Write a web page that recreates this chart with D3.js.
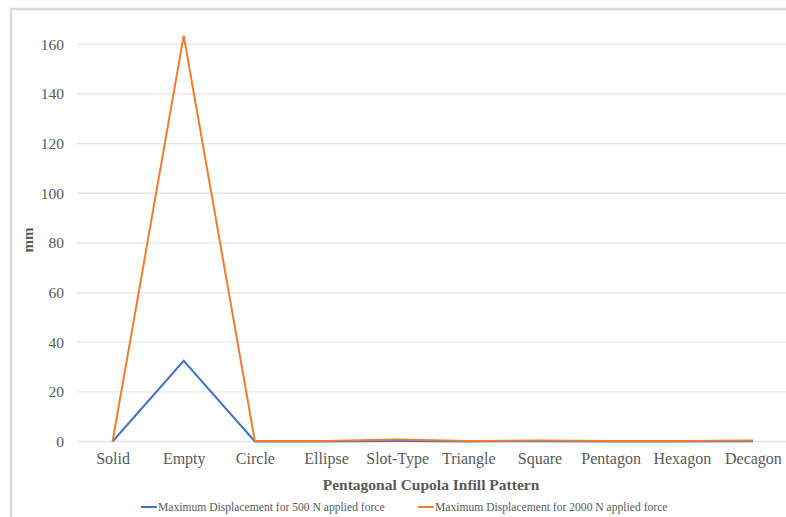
<!DOCTYPE html>
<html>
<head>
<meta charset="utf-8">
<script src="https://cdn.jsdelivr.net/npm/d3@7"></script>
<style>
  html, body { margin: 0; padding: 0; background: #fff; }
  svg { display: block; }
  text { font-family: "Liberation Serif", "Times New Roman", serif; fill: #595959; }
</style>
</head>
<body>
<svg id="chart" width="786" height="517"></svg>
<script>
// Infill patterns and maximum displacement (mm) for each load case
const categories = ["Solid", "Empty", "Circle", "Ellipse", "Slot-Type", "Triangle", "Square", "Pentagon", "Hexagon", "Decagon"];
const disp500 = [0, 32.5, 0.05, 0.05, 0.2, 0.05, 0.1, 0.05, 0.05, 0.1];
const disp2000 = [0, 163.5, 0.2, 0.2, 0.8, 0.2, 0.4, 0.2, 0.2, 0.4];
const yTicks = [0, 20, 40, 60, 80, 100, 120, 140, 160];
const seriesNames = [
  "Maximum Displacement for 500 N applied force",
  "Maximum Displacement for 2000 N applied force"
];
const seriesColors = ["#4472C4", "#ED7D31"];

const svg = d3.select("#chart");

// chart frame
svg.append("rect")
  .attr("x", 11).attr("y", 9)
  .attr("width", 800).attr("height", 520)
  .attr("fill", "none").attr("stroke", "#d9d9d9").attr("stroke-width", 2.5);

const plot = { left: 77, right: 788.5, top: 44.3, bottom: 441.5 };

const x = d3.scalePoint()
  .domain(categories)
  .range([plot.left, plot.right])
  .padding(0.5);

const y = d3.scaleLinear()
  .domain([0, 160])
  .range([plot.bottom, plot.top]);

// horizontal gridlines
svg.append("g")
  .selectAll("line")
  .data(yTicks)
  .join("line")
  .attr("x1", plot.left).attr("x2", 786)
  .attr("y1", d => y(d)).attr("y2", d => y(d))
  .attr("stroke", "#e6e6e6").attr("stroke-width", 1.3);

// y axis labels
const yAxis = d3.axisLeft(y).tickValues(yTicks).tickSize(0).tickPadding(0);
const gy = svg.append("g").attr("transform", `translate(64,0)`).call(yAxis);
gy.select(".domain").remove();
gy.selectAll("text")
  .style("font-family", '"Liberation Serif", serif')
  .style("font-size", "15.5px")
  .attr("fill", "#595959");

// x axis labels
const xAxis = d3.axisBottom(x).tickSize(0).tickPadding(0);
const gx = svg.append("g").attr("transform", `translate(0,${plot.bottom + 11})`).call(xAxis);
gx.select(".domain").remove();
gx.selectAll("text")
  .style("font-family", '"Liberation Serif", serif')
  .style("font-size", "16px")
  .attr("fill", "#595959");

// series lines
const series = [disp500, disp2000];
const line = d3.line()
  .x((d, i) => x(categories[i]))
  .y(d => y(d));

series.forEach((vals, k) => {
  svg.append("path")
    .datum(vals)
    .attr("d", line)
    .attr("fill", "none")
    .attr("stroke", seriesColors[k])
    .attr("stroke-width", 2)
    .attr("stroke-linejoin", "miter");
});

// axis titles
svg.append("text")
  .attr("x", 431).attr("y", 490)
  .attr("text-anchor", "middle")
  .style("font-size", "15.5px")
  .style("font-weight", "bold")
  .text("Pentagonal Cupola Infill Pattern");

svg.append("text")
  .attr("transform", "translate(33,240) rotate(-90)")
  .attr("text-anchor", "middle")
  .style("font-size", "15px")
  .style("font-weight", "bold")
  .text("mm");

// legend
const legendX = [141, 418];
seriesNames.forEach((name, k) => {
  const g = svg.append("g").attr("transform", `translate(${legendX[k]},507)`);
  g.append("line")
    .attr("x1", 0).attr("x2", 16)
    .attr("y1", 0).attr("y2", 0)
    .attr("stroke", seriesColors[k]).attr("stroke-width", 2);
  g.append("text")
    .attr("x", 17).attr("y", 4)
    .style("font-size", "11.6px")
    .text(name);
});
</script>
</body>
</html>
